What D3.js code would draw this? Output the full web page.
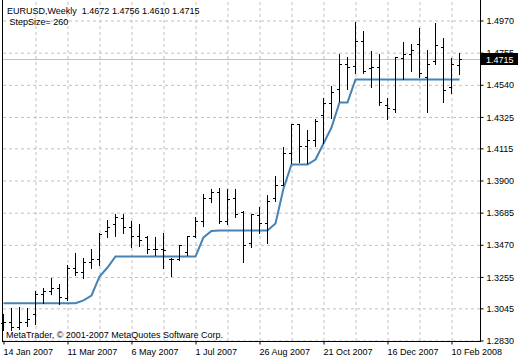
<!DOCTYPE html>
<html>
<head>
  <title>EURUSD Weekly</title>
  <script src="https://cdn.jsdelivr.net/npm/d3@7"></script>
  <style>
    body { margin: 0; background: #fff; }
    svg { display: block; font-family: "Liberation Sans", Arial, sans-serif; }
    .grid line { stroke: #c0c0c0; stroke-dasharray: 3,3; }
    .grid path { display: none; }
  </style>
</head>
<body>
<div id="chart"></div>
<script>
// weekly bars, first one opens 14 Jan 2007
var firstWeek = "2007-01-14";
var open  = [1.2944,1.2957,1.2917,1.2957,1.3004,1.3138,1.3158,1.3184,1.3111,1.3318,
             1.3285,1.3352,1.3378,1.3559,1.3606,1.3646,1.3592,1.3532,1.3519,1.3445,
             1.3445,1.3372,1.3378,1.3419,1.3532,1.3626,1.3780,1.3826,1.3626,1.3780,
             1.3686,1.3479,1.3666,1.3619,1.3780,1.3873,1.4087,1.4275,1.4134,1.4174,
             1.4335,1.4415,1.4515,1.4682,1.4669,1.4830,1.4649,1.4656,1.4408,1.4375,
             1.4716,1.4749,1.4810,1.4589,1.4696,1.4796,1.4522,1.4672];
var high  = [1.3004,1.3044,1.3057,1.3044,1.3164,1.3178,1.3251,1.3211,1.3332,1.3412,
             1.3385,1.3445,1.3552,1.3639,1.3679,1.3679,1.3626,1.3612,1.3526,1.3519,
             1.3552,1.3385,1.3472,1.3532,1.3653,1.3813,1.3840,1.3853,1.3840,1.3840,
             1.3699,1.3679,1.3720,1.3800,1.3927,1.4121,1.4281,1.4281,1.4241,1.4308,
             1.4455,1.4529,1.4749,1.4729,1.4963,1.4903,1.4769,1.4749,1.4455,1.4723,
             1.4823,1.4816,1.4923,1.4776,1.4950,1.4856,1.4716,1.4756];
var low   = [1.2897,1.2897,1.2910,1.2930,1.2937,1.3084,1.3144,1.3071,1.3098,1.3271,
             1.3251,1.3318,1.3332,1.3519,1.3532,1.3546,1.3452,1.3459,1.3412,1.3405,
             1.3318,1.3258,1.3365,1.3405,1.3519,1.3599,1.3753,1.3619,1.3612,1.3653,
             1.3352,1.3452,1.3552,1.3485,1.3766,1.3867,1.4014,1.4027,1.4014,1.4134,
             1.4148,1.4315,1.4435,1.4515,1.4616,1.4622,1.4522,1.4402,1.4308,1.4361,
             1.4582,1.4629,1.4589,1.4361,1.4682,1.4428,1.4482,1.4610];
var close = [1.2957,1.2917,1.2957,1.2977,1.3138,1.3158,1.3184,1.3118,1.3318,1.3285,
             1.3352,1.3378,1.3539,1.3586,1.3659,1.3592,1.3526,1.3505,1.3445,1.3445,
             1.3432,1.3378,1.3472,1.3526,1.3626,1.3780,1.3826,1.3626,1.3773,1.3673,
             1.3472,1.3673,1.3619,1.3766,1.3867,1.4087,1.4275,1.4134,1.4174,1.4301,
             1.4415,1.4495,1.4682,1.4662,1.4836,1.4629,1.4656,1.4428,1.4382,1.4723,
             1.4743,1.4776,1.4622,1.4682,1.4803,1.4502,1.4682,1.4715];
var stepMA = [1.3079,1.3079,1.3079,1.3079,1.3079,1.3079,1.3079,1.3079,1.3079,1.3079,
              1.3098,1.3131,1.3258,1.3318,1.3392,1.3392,1.3392,1.3392,1.3392,1.3392,
              1.3392,1.3392,1.3392,1.3392,1.3392,1.3519,1.3563,1.3566,1.3566,1.3566,
              1.3566,1.3566,1.3566,1.3566,1.3612,1.3847,1.4007,1.4007,1.4007,1.4040,
              1.4147,1.4254,1.4422,1.4422,1.4576,1.4576,1.4576,1.4576,1.4576,1.4576,
              1.4576,1.4576,1.4576,1.4576,1.4576,1.4576,1.4576,1.4576];

var priceTicks = [1.2830,1.3045,1.3255,1.3470,1.3685,1.3900,1.4115,1.4325,1.4540,1.4755,1.4970];
var dateLabels = ["14 Jan 2007","11 Mar 2007","6 May 2007","1 Jul 2007",
                  "26 Aug 2007","21 Oct 2007","16 Dec 2007","10 Feb 2008"];
var lastPrice = 1.4715;
var titleText = "EURUSD,Weekly  1.4672 1.4756 1.4610 1.4715";
var paramText = " StepSize= 260";
var copyText = "MetaTrader, \u00a9 2001-2007 MetaQuotes Software Corp.";

var W = 520, H = 360;
var n = close.length;
var t0 = new Date(firstWeek + "T00:00:00Z");
var dates = d3.range(n).map(function(i) { return d3.utcWeek.offset(t0, i); });

var x = d3.scaleUtc().domain([dates[0], dates[n - 1]]).range([3.5, 459.5]);
var y = d3.scaleLinear().domain([1.2830, 1.4970]).range([340.5, 20.5]);

var svg = d3.select("#chart").append("svg")
    .attr("width", W)
    .attr("height", H);

// grid
svg.append("g").attr("class", "grid")
  .attr("transform", "translate(0,0)")
  .call(d3.axisLeft(y).tickValues(priceTicks).tickSize(-478).tickFormat(""))
  .attr("transform", "translate(480,0)")
  .call(function(g) { g.selectAll("line").attr("x1", 0).attr("x2", -478); });

var gridDates = dates.filter(function(d, i) { return i > 0 && i % 4 === 0; });
svg.append("g").attr("class", "grid")
  .attr("transform", "translate(0,341)")
  .call(d3.axisBottom(x).tickValues(gridDates).tickSize(-341).tickFormat(""));

// current price line
svg.append("line")
  .attr("x1", 2).attr("x2", 480)
  .attr("y1", Math.round(y(lastPrice)) + 0.5).attr("y2", Math.round(y(lastPrice)) + 0.5)
  .attr("stroke", "#c0c0c0");

// step line
var line = d3.line()
  .x(function(d, i) { return x(dates[i]); })
  .y(function(d) { return y(d); });
svg.append("path")
  .datum(stepMA)
  .attr("d", line)
  .attr("fill", "none")
  .attr("stroke", "#4682b4")
  .attr("stroke-width", 2);

// OHLC bars
var bars = svg.append("g").attr("stroke", "#000").attr("stroke-width", 1);
var idx = d3.range(n);
function py(v) { return Math.round(y(v)) + 0.5; }
bars.selectAll("line.hl").data(idx).enter().append("line")
  .attr("x1", function(i) { return x(dates[i]); })
  .attr("x2", function(i) { return x(dates[i]); })
  .attr("y1", function(i) { return Math.round(y(high[i])); })
  .attr("y2", function(i) { return Math.round(y(low[i])) + 1; });
bars.selectAll("line.o").data(idx).enter().append("line")
  .attr("x1", function(i) { return x(dates[i]) - 2.5; })
  .attr("x2", function(i) { return x(dates[i]) - 0.5; })
  .attr("y1", function(i) { return py(open[i]); })
  .attr("y2", function(i) { return py(open[i]); });
bars.selectAll("line.c").data(idx).enter().append("line")
  .attr("x1", function(i) { return x(dates[i]) + 0.5; })
  .attr("x2", function(i) { return x(dates[i]) + 2.5; })
  .attr("y1", function(i) { return py(close[i]); })
  .attr("y2", function(i) { return py(close[i]); });

// frame
svg.append("line").attr("x1", 2.5).attr("x2", 2.5).attr("y1", 0).attr("y2", 342).attr("stroke", "#000");

// price axis
var yAxis = svg.append("g")
  .attr("transform", "translate(480.5,0)")
  .call(d3.axisRight(y).tickValues(priceTicks).tickSize(3).tickSizeOuter(0).tickPadding(3)
        .tickFormat(d3.format(".4f")));
yAxis.select(".domain").attr("d", "M0,0V342");
yAxis.selectAll("text").attr("font-size", 9).attr("fill", "#000")
  .attr("font-family", "Liberation Sans, Arial, sans-serif").attr("dy", "0.35em");

// time axis
var xAxis = svg.append("g")
  .attr("transform", "translate(0,341.5)")
  .call(d3.axisBottom(x).tickValues(dates.filter(function(d, i) { return i % 8 === 0; }))
        .tickSize(3).tickSizeOuter(0)
        .tickFormat(function(d, i) { return dateLabels[i]; }));
xAxis.select(".domain").attr("d", "M2,0H481");
xAxis.selectAll("text").attr("font-size", 9).attr("fill", "#000")
  .attr("font-family", "Liberation Sans, Arial, sans-serif")
  .attr("text-anchor", "start").attr("x", -0.5).attr("y", 13).attr("dy", 0);

// last price marker
var ly = Math.round(y(lastPrice));
svg.append("rect").attr("x", 481).attr("y", ly - 6).attr("width", 37).attr("height", 12).attr("fill", "#000");
svg.append("text").attr("x", 486).attr("y", ly + 3.5)
  .attr("font-size", 9).attr("fill", "#fff").text(d3.format(".4f")(lastPrice));

// labels
svg.append("text").attr("x", 7).attr("y", 14).attr("font-size", 9)
  .style("white-space", "pre").text(titleText);
svg.append("text").attr("x", 7).attr("y", 25).attr("font-size", 9)
  .style("white-space", "pre").text(paramText);
svg.append("text").attr("x", 6).attr("y", 338).attr("font-size", 9)
  .attr("fill", "#000").text(copyText);
</script>
</body>
</html>
